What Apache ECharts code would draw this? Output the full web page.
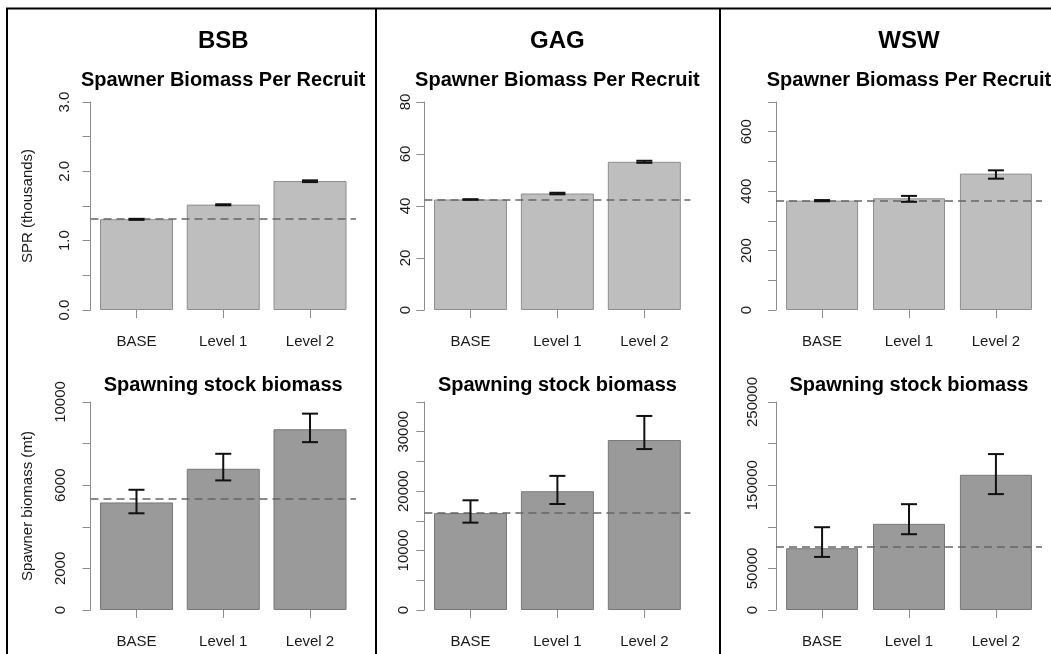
<!DOCTYPE html>
<html>
<head>
<meta charset="utf-8">
<script src="https://cdn.jsdelivr.net/npm/echarts@6/dist/echarts.min.js"></script>
<style>
html,body{margin:0;padding:0;background:#fff;}
#chart{width:1051px;height:654px;}
</style>
</head>
<body>
<div id="chart"></div>
<script>
// ---------------- data ----------------
const categories = ['BASE', 'Level 1', 'Level 2'];
const species = ['BSB', 'GAG', 'WSW'];
const sprTitle = 'Spawner Biomass Per Recruit';
const ssbTitle = 'Spawning stock biomass';
const sprAxisName = 'SPR (thousands)';
const ssbAxisName = 'Spawner biomass (mt)';

// Spawner biomass per recruit
const bsbSpr = [1.31, 1.52, 1.86];
const bsbSprLow = [1.30, 1.51, 1.845];
const bsbSprHigh = [1.315, 1.525, 1.87];
const bsbSprRef = 1.31;
const bsbSprTicks = [0, 0.5, 1, 1.5, 2, 2.5, 3];
const bsbSprLabelVals = [0, 1, 2, 3];
const bsbSprLabelTxt = ['0.0', '1.0', '2.0', '3.0'];

const gagSpr = [42.5, 44.8, 57.0];
const gagSprLow = [42.4, 44.5, 56.6];
const gagSprHigh = [42.6, 45.1, 57.4];
const gagSprRef = 42.5;
const gagSprTicks = [0, 20, 40, 60, 80];
const gagSprLabelVals = [0, 20, 40, 60, 80];
const gagSprLabelTxt = ['0', '20', '40', '60', '80'];

const wswSpr = [368, 376, 459];
const wswSprLow = [366, 364, 442];
const wswSprHigh = [370, 384, 470];
const wswSprRef = 369;
const wswSprTicks = [0, 100, 200, 300, 400, 500, 600, 700];
const wswSprLabelVals = [0, 200, 400, 600];
const wswSprLabelTxt = ['0', '200', '400', '600'];

// Spawning stock biomass
const bsbSsb = [5170, 6790, 8690];
const bsbSsbLow = [4650, 6230, 8070];
const bsbSsbHigh = [5780, 7510, 9440];
const bsbSsbRef = 5350;
const bsbSsbTicks = [0, 2000, 4000, 6000, 8000, 10000];
const bsbSsbLabelVals = [0, 2000, 6000, 10000];
const bsbSsbLabelTxt = ['0', '2000', '6000', '10000'];

const gagSsb = [16300, 19980, 28600];
const gagSsbLow = [14700, 17840, 27080];
const gagSsbHigh = [18460, 22570, 32650];
const gagSsbRef = 16300;
const gagSsbTicks = [0, 5000, 10000, 15000, 20000, 25000, 30000, 35000];
const gagSsbLabelVals = [0, 10000, 20000, 30000];
const gagSsbLabelTxt = ['0', '10000', '20000', '30000'];

const wswSsb = [74300, 103500, 162500];
const wswSsbLow = [63800, 91100, 139300];
const wswSsbHigh = [99500, 127200, 187400];
const wswSsbRef = 75500;
const wswSsbTicks = [0, 50000, 100000, 150000, 200000, 250000];
const wswSsbLabelVals = [0, 50000, 150000, 250000];
const wswSsbLabelTxt = ['0', '50000', '150000', '250000'];

// ---------------- layout / build ----------------
const FONT = '"Liberation Sans", Arial, Helvetica, sans-serif';
const cols = [
  {left: 90.5, width: 265.5, barW: 73},
  {left: 424.4, width: 266, barW: 73},
  {left: 776, width: 266, barW: 72}
];
const rows = [
  {top: 102, height: 208, fill: '#bebebe', border: '#8e8e8e', title: sprTitle, titleY: 80, axisName: sprAxisName},
  {top: 402, height: 208, fill: '#9a9a9a', border: '#777777', title: ssbTitle, titleY: 385, axisName: ssbAxisName}
];

const panels = [
  {r: 0, c: 0, vals: bsbSpr, low: bsbSprLow, high: bsbSprHigh, ref: bsbSprRef, ticks: bsbSprTicks, lv: bsbSprLabelVals, lt: bsbSprLabelTxt, lm: 18},
  {r: 0, c: 1, vals: gagSpr, low: gagSprLow, high: gagSprHigh, ref: gagSprRef, ticks: gagSprTicks, lv: gagSprLabelVals, lt: gagSprLabelTxt, lm: 11},
  {r: 0, c: 2, vals: wswSpr, low: wswSprLow, high: wswSprHigh, ref: wswSprRef, ticks: wswSprTicks, lv: wswSprLabelVals, lt: wswSprLabelTxt, lm: 22},
  {r: 1, c: 0, vals: bsbSsb, low: bsbSsbLow, high: bsbSsbHigh, ref: bsbSsbRef, ticks: bsbSsbTicks, lv: bsbSsbLabelVals, lt: bsbSsbLabelTxt, lm: 22},
  {r: 1, c: 1, vals: gagSsb, low: gagSsbLow, high: gagSsbHigh, ref: gagSsbRef, ticks: gagSsbTicks, lv: gagSsbLabelVals, lt: gagSsbLabelTxt, lm: 13},
  {r: 1, c: 2, vals: wswSsb, low: wswSsbLow, high: wswSsbHigh, ref: wswSsbRef, ticks: wswSsbTicks, lv: wswSsbLabelVals, lt: wswSsbLabelTxt, lm: 16}
];

const grid = [], xAxis = [], yAxis = [], series = [], graphic = [];
const axisGray = '#8c8c8c';

panels.forEach((p, i) => {
  const col = cols[p.c], row = rows[p.r];
  grid.push({left: col.left, top: row.top, width: col.width, height: row.height, containLabel: false});
  xAxis.push({
    type: 'value', gridIndex: i, min: -0.53, max: 2.53,
    axisLine: {show: false, onZero: false},
    splitLine: {show: false},
    axisTick: {show: true, customValues: [0, 1, 2], length: 8, lineStyle: {color: axisGray, width: 1}},
    axisLabel: {show: true, customValues: [0, 1, 2], formatter: v => categories[Math.round(v)],
      margin: 24, fontSize: 15, color: '#1a1a1a', fontFamily: FONT}
  });
  yAxis.push({
    type: 'value', gridIndex: i, min: 0, max: p.ticks[p.ticks.length - 1],
    name: p.c === 0 ? row.axisName : '', nameLocation: 'middle', nameGap: 55,
    nameTextStyle: {fontSize: 15, color: '#1a1a1a', fontFamily: FONT},
    axisLine: {show: true, onZero: false, lineStyle: {color: axisGray, width: 1}},
    splitLine: {show: false},
    axisTick: {show: true, customValues: p.ticks, length: 8, lineStyle: {color: axisGray, width: 1}},
    axisLabel: {show: true, customValues: p.lv, rotate: 90, margin: p.lm, fontSize: 15, color: '#1a1a1a', fontFamily: FONT,
      formatter: v => { const k = p.lv.indexOf(v); return k >= 0 ? p.lt[k] : ''; }}
  });
  series.push({
    type: 'bar', xAxisIndex: i, yAxisIndex: i,
    data: p.vals.map((v, k) => [k, v]),
    barWidth: col.barW,
    itemStyle: {color: row.fill, borderColor: row.border, borderWidth: 1},
    markLine: {
      silent: true, symbol: 'none', label: {show: false},
      lineStyle: {type: [8, 5], color: '#666666', width: 1.5},
      data: [{yAxis: p.ref}]
    },
    z: 2
  });
  series.push({
    type: 'custom', xAxisIndex: i, yAxisIndex: i,
    data: p.low.map((l, k) => [k, l, p.high[k]]),
    encode: {x: 0, y: [1, 2]},
    renderItem: (params, api) => {
      const x = api.value(0);
      const lo = api.coord([x, api.value(1)]);
      const hi = api.coord([x, api.value(2)]);
      const hw = 8;
      const st = {stroke: '#111', lineWidth: 2};
      return {type: 'group', children: [
        {type: 'line', shape: {x1: hi[0], y1: hi[1], x2: lo[0], y2: lo[1]}, style: st},
        {type: 'line', shape: {x1: hi[0] - hw, y1: hi[1], x2: hi[0] + hw, y2: hi[1]}, style: st},
        {type: 'line', shape: {x1: lo[0] - hw, y1: lo[1], x2: lo[0] + hw, y2: lo[1]}, style: st}
      ]};
    },
    z: 5
  });
  if (p.r === 0) {
    graphic.push({type: 'text', x: col.left + col.width / 2, y: 41,
      style: {text: species[p.c], font: 'bold 24px ' + FONT, fill: '#000', textAlign: 'center', textVerticalAlign: 'middle'}});
  }
  graphic.push({type: 'text', x: col.left + col.width / 2, y: row.titleY,
    style: {text: row.title, font: 'bold 20px ' + FONT, fill: '#000', textAlign: 'center', textVerticalAlign: 'middle'}});
});

// frame lines
const frame = {stroke: '#000', lineWidth: 2};
graphic.push({type: 'line', shape: {x1: 6, y1: 8.5, x2: 1051, y2: 8.5}, style: frame});
graphic.push({type: 'line', shape: {x1: 7, y1: 8, x2: 7, y2: 654}, style: frame});
graphic.push({type: 'line', shape: {x1: 376, y1: 8, x2: 376, y2: 654}, style: frame});
graphic.push({type: 'line', shape: {x1: 720, y1: 8, x2: 720, y2: 654}, style: frame});

const chart = echarts.init(document.getElementById('chart'), null, {renderer: 'canvas'});
chart.setOption({
  animation: false,
  backgroundColor: '#fff',
  textStyle: {fontFamily: FONT},
  grid, xAxis, yAxis, series, graphic
});
</script>
</body>
</html>
